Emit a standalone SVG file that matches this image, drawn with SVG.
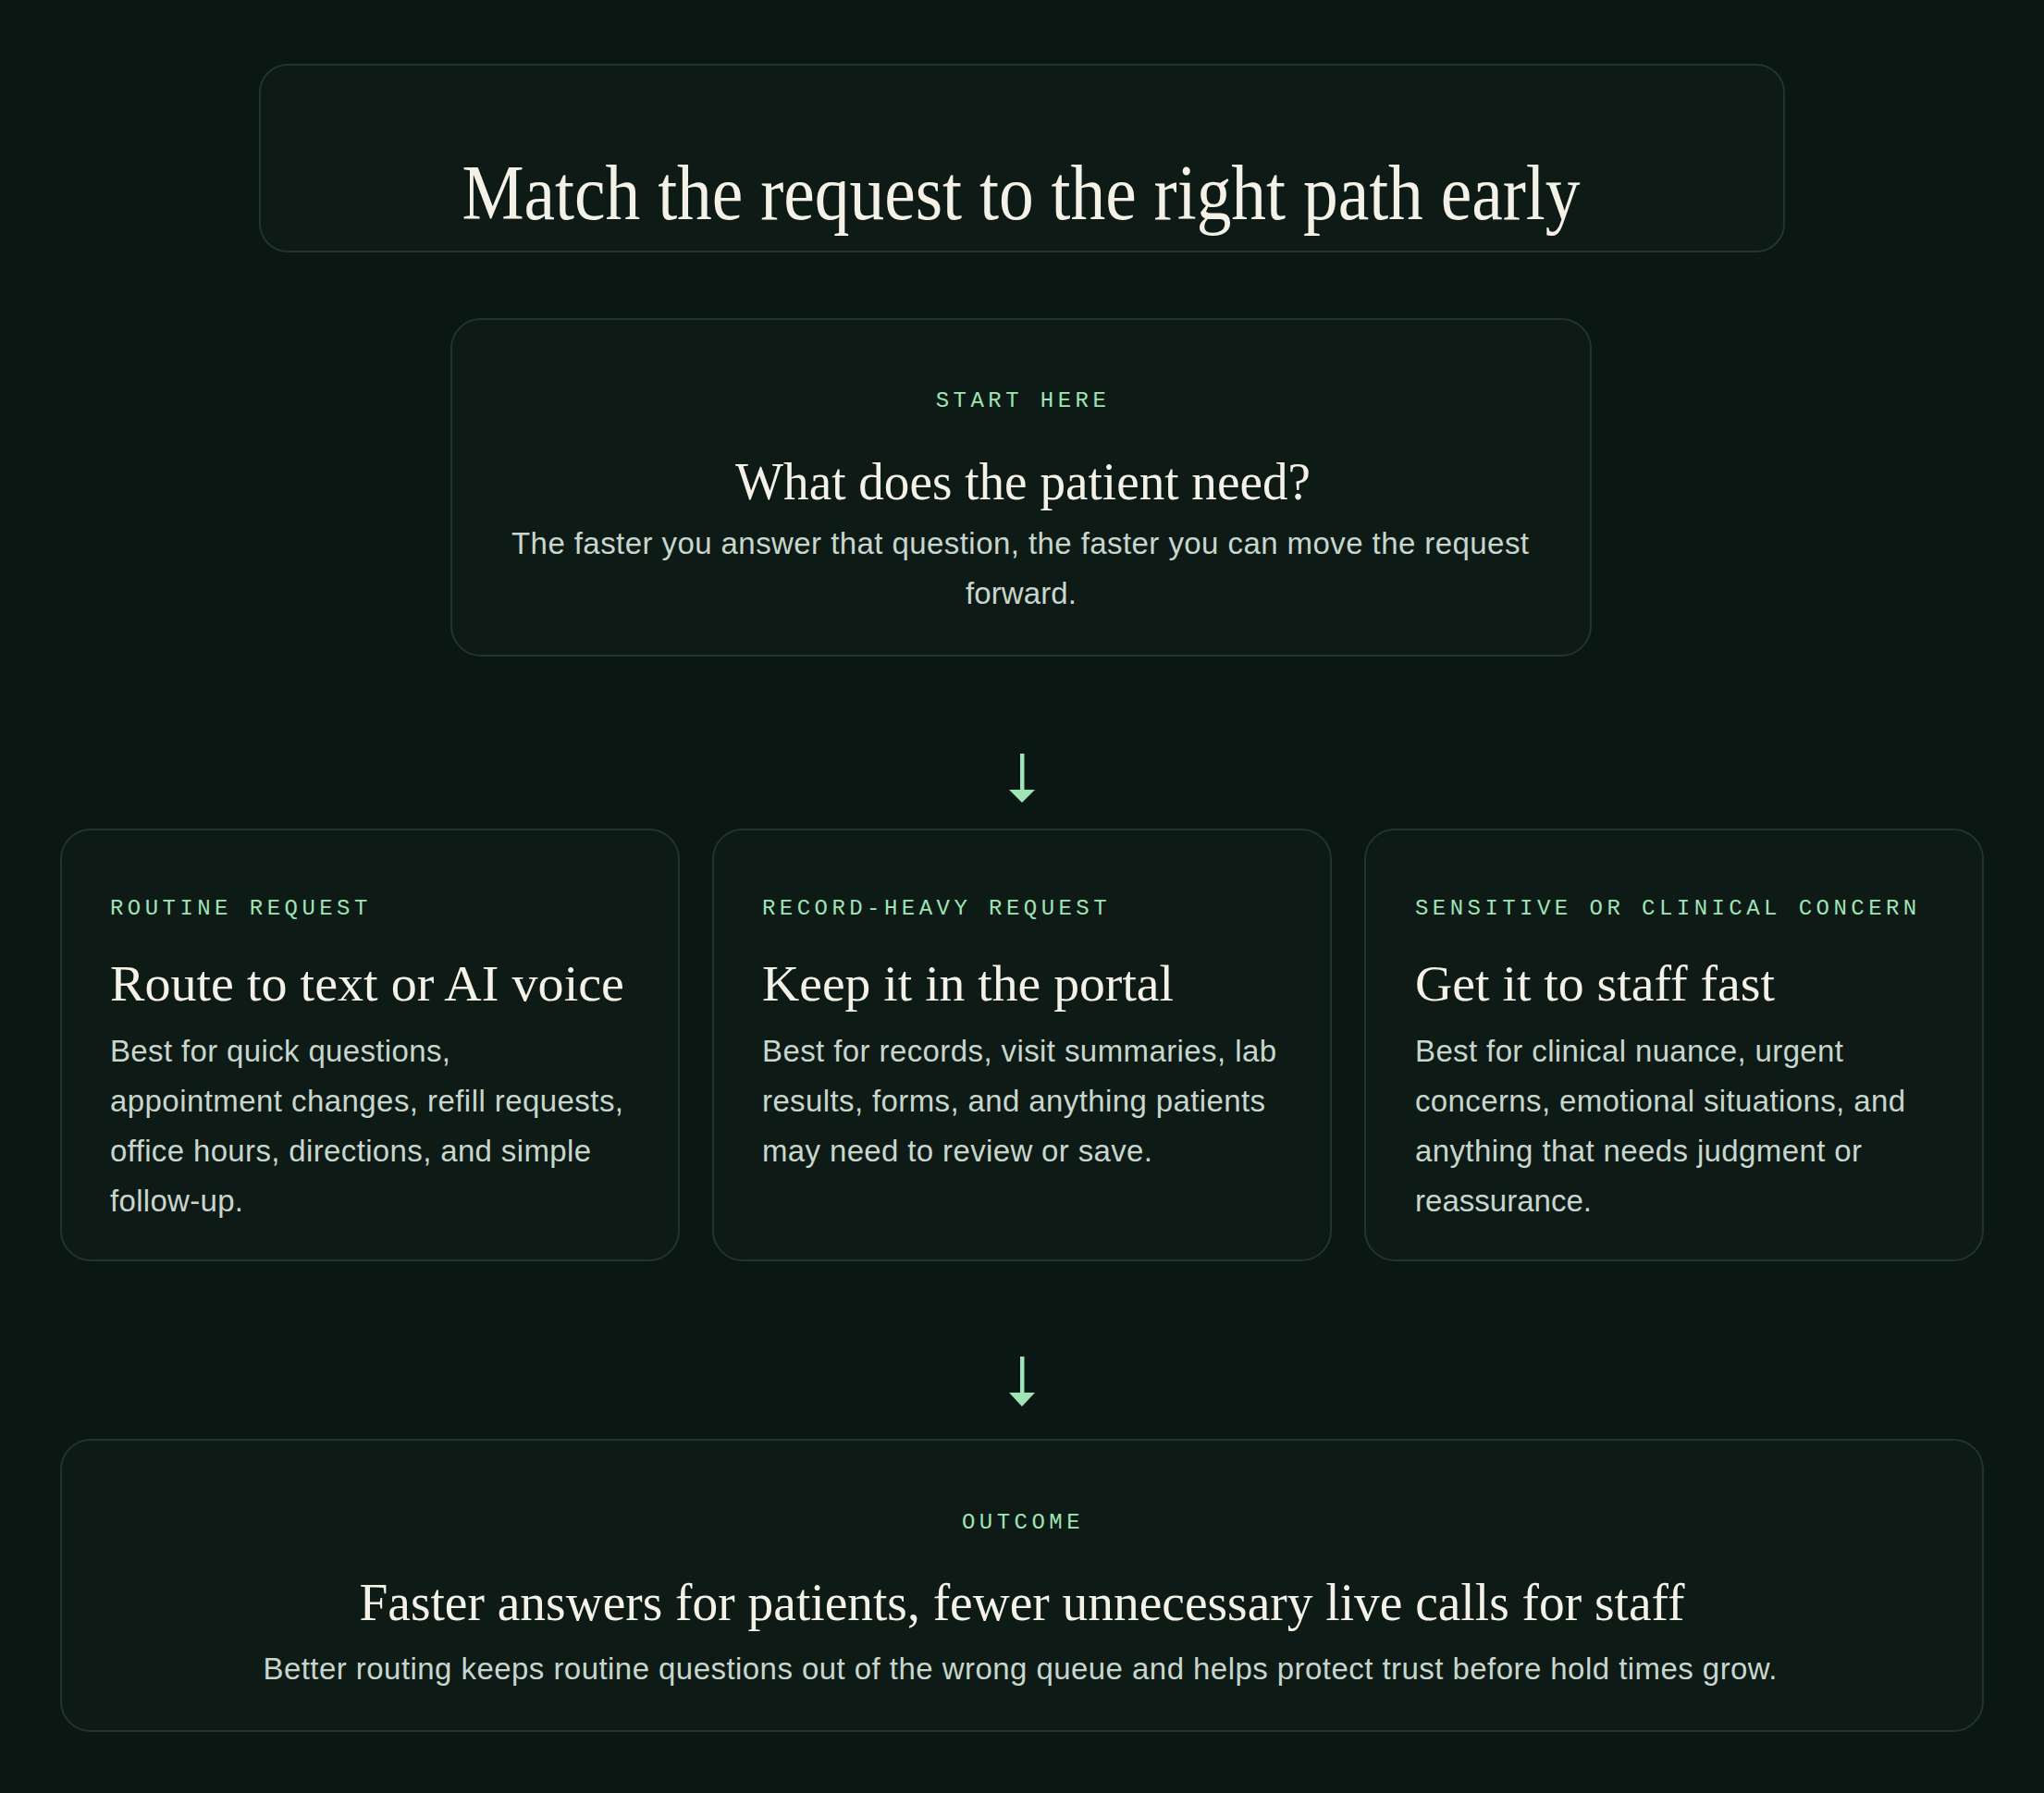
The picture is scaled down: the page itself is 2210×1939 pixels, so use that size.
<svg xmlns="http://www.w3.org/2000/svg" width="2210" height="1939" viewBox="0 0 2210 1939">
  <defs>
    <style>
      .box { fill: #0d1a15; stroke: #24332c; stroke-width: 2; }
      .label { font-family: "Liberation Mono", "DejaVu Sans Mono", monospace; font-size: 24px; letter-spacing: 4.45px; fill: #9fe4b6; }
      .h1 { font-family: "Liberation Serif", "Times New Roman", serif; font-size: 84px; fill: #f4f1e6; }
      .h2 { font-family: "Liberation Serif", "Times New Roman", serif; font-size: 58px; fill: #f4f1e6; }
      .h3 { font-family: "Liberation Serif", "Times New Roman", serif; font-size: 54px; fill: #f4f1e6; }
      .body { font-family: "Liberation Sans", Arial, sans-serif; font-size: 33px; fill: #c8d6cd; }
      .mid { text-anchor: middle; }
      .arrow { fill: #9fe4b6; }
    </style>
  </defs>
  <rect width="2210" height="1939" fill="#0a1713"/>

  <g id="title">
    <rect class="box" x="281" y="70" width="1648" height="202" rx="30"/>
    <text class="h1 mid" x="1104" y="237" textLength="1209" lengthAdjust="spacingAndGlyphs">Match the request to the right path early</text>
  </g>

  <g id="start">
    <rect class="box" x="488" y="345" width="1232" height="364" rx="32"/>
    <text class="label mid" x="1106" y="440">START HERE</text>
    <text class="h2 mid" x="1106" y="540" textLength="622" lengthAdjust="spacingAndGlyphs">What does the patient need?</text>
    <text class="body mid" x="1103" y="599" textLength="1100">The faster you answer that question, the faster you can move the request</text>
    <text class="body mid" x="1104" y="653" textLength="120">forward.</text>
  </g>

  <g id="connectors">
    <rect class="arrow" x="1103" y="815" width="4.5" height="41"/>
    <polygon class="arrow" points="1091,854 1119,854 1105,868"/>
    <rect class="arrow" x="1103" y="1467" width="4.5" height="41"/>
    <polygon class="arrow" points="1091,1506 1119,1506 1105,1521"/>
  </g>

  <g id="routine">
    <rect class="box" x="66" y="897" width="668" height="466" rx="32"/>
    <text class="label" x="119" y="989">ROUTINE REQUEST</text>
    <text class="h3" x="119" y="1082" textLength="556" lengthAdjust="spacingAndGlyphs">Route to text or AI voice</text>
    <text class="body" x="119" y="1148" textLength="368">Best for quick questions,</text>
    <text class="body" x="119" y="1202" textLength="555">appointment changes, refill requests,</text>
    <text class="body" x="119" y="1256" textLength="520">office hours, directions, and simple</text>
    <text class="body" x="119" y="1310" textLength="144">follow-up.</text>
  </g>

  <g id="record">
    <rect class="box" x="771" y="897" width="668" height="466" rx="32"/>
    <text class="label" x="824" y="989">RECORD-HEAVY REQUEST</text>
    <text class="h3" x="824" y="1082" textLength="445" lengthAdjust="spacingAndGlyphs">Keep it in the portal</text>
    <text class="body" x="824" y="1148" textLength="556">Best for records, visit summaries, lab</text>
    <text class="body" x="824" y="1202" textLength="544">results, forms, and anything patients</text>
    <text class="body" x="824" y="1256" textLength="422">may need to review or save.</text>
  </g>

  <g id="sensitive">
    <rect class="box" x="1476" y="897" width="668" height="466" rx="32"/>
    <text class="label" x="1530" y="989">SENSITIVE OR CLINICAL CONCERN</text>
    <text class="h3" x="1530" y="1082" textLength="389" lengthAdjust="spacingAndGlyphs">Get it to staff fast</text>
    <text class="body" x="1530" y="1148" textLength="463">Best for clinical nuance, urgent</text>
    <text class="body" x="1530" y="1202" textLength="530">concerns, emotional situations, and</text>
    <text class="body" x="1530" y="1256" textLength="483">anything that needs judgment or</text>
    <text class="body" x="1530" y="1310" textLength="191">reassurance.</text>
  </g>

  <g id="outcome">
    <rect class="box" x="66" y="1557" width="2078" height="315" rx="32"/>
    <text class="label mid" x="1106" y="1653">OUTCOME</text>
    <text class="h2 mid" x="1105" y="1752" textLength="1433" lengthAdjust="spacingAndGlyphs">Faster answers for patients, fewer unnecessary live calls for staff</text>
    <text class="body mid" x="1103" y="1816" textLength="1637">Better routing keeps routine questions out of the wrong queue and helps protect trust before hold times grow.</text>
  </g>
</svg>
